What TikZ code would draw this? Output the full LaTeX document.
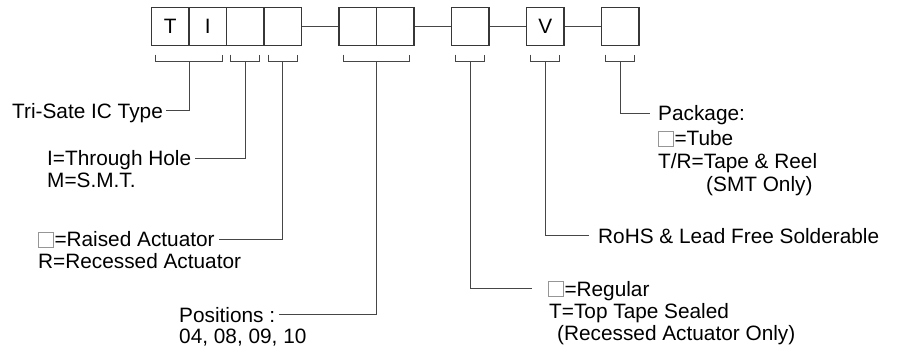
\documentclass[tikz,border=0pt]{standalone}
\usepackage{fontspec}
\setmainfont{Liberation Sans}
\usetikzlibrary{calc}
\definecolor{boxc}{RGB}{55,55,55}
\definecolor{linec}{RGB}{70,70,70}
\definecolor{sqgray}{RGB}{150,150,150}
\newcommand\emptysq{{\color{sqgray}\fboxsep=0pt\fboxrule=0.9pt\fbox{\rule{0pt}{14pt}\hspace{14pt}}}\kern0.5pt}
\newcommand\partbrace[3]{%
  \draw[brk] ($(#1.south west)+(5,8.5)$) -- ($(#1.south west)+(5,15.5)$) -- ($(#2.south east)+(-5,15.5)$) -- ($(#2.south east)+(-5,8.5)$);
  \coordinate (#3) at ($(#1.south west)!0.5!(#2.south east)+(0,15.5)$);}
\begin{document}
\begin{tikzpicture}[x=1pt,y=-1pt,
  cell/.style={draw=boxc,line width=1.1pt,minimum width=37.5pt,minimum height=38pt,inner sep=0pt,font=\fontsize{20.8}{23}\selectfont},
  lbl/.style={anchor=base west,inner sep=0pt,font=\fontsize{20.8}{23}\selectfont},
  ln/.style={draw=linec,line width=1pt},
  brk/.style={draw=linec,line width=1pt}]
\useasboundingbox (0,0) rectangle (901,352);
% code cells
\node[cell] (b1) at (170.25,26.5) {T};
\node[cell] (b2) at (207.75,26.5) {I};
\node[cell] (b3) at (245.25,26.5) {};
\node[cell] (b4) at (282.75,26.5) {};
\node[cell] (b5) at (357.75,26.5) {};
\node[cell] (b6) at (395.25,26.5) {};
\node[cell] (b7) at (470.25,26.5) {};
\node[cell] (b8) at (545.25,26.5) {V};
\node[cell] (b9) at (620.25,26.5) {};
\draw[ln] (b4.east) -- (b5.west);
\draw[ln] (b6.east) -- (b7.west);
\draw[ln] (b7.east) -- (b8.west);
\draw[ln] (b8.east) -- (b9.west);
% brackets
\partbrace{b1}{b2}{c1}
\partbrace{b3}{b3}{c2}
\partbrace{b4}{b4}{c3}
\partbrace{b5}{b6}{c4}
\partbrace{b7}{b7}{c5}
\partbrace{b8}{b8}{c6}
\partbrace{b9}{b9}{c7}
% labels
\node[lbl] (l1) at (12,118.5) {Tri-Sate IC Type};
\node[lbl] (l2a) at (47,166) {I=Through Hole};
\node[lbl] (l2b) at (47,188) {M=S.M.T.};
\node[lbl] (l3a) at (38,247) {\emptysq=Raised Actuator};
\node[lbl] (l3b) at (38,269) {R=Recessed Actuator};
\node[lbl] (l4a) at (179,322) {Positions :};
\node[lbl] (l4b) at (179,343.5) {04, 08, 09, 10};
\node[lbl] (l5a) at (548,296) {\emptysq=Regular};
\node[lbl] (l5b) at (549,318) {T=Top Tape Sealed};
\node[lbl] (l5c) at (557,340) {(Recessed Actuator Only)};
\node[lbl] (l6) at (598,243.5) {RoHS \& Lead Free Solderable};
\node[lbl] (l7a) at (658,121) {Package:};
\node[lbl] (l7b) at (658,146) {\emptysq=Tube};
\node[lbl] (l7c) at (658,169) {T/R=Tape \& Reel};
\node[lbl] (l7d) at (706,192) {(SMT Only)};
% leader lines
\draw[ln] (c1) |- ([xshift=2.5pt,yshift=7.5pt]l1.base east);
\draw[ln] (c2) |- ([xshift=4pt,yshift=7.5pt]l2a.base east);
\draw[ln] (c3) |- ([xshift=4pt,yshift=7.5pt]l3a.base east);
\draw[ln] (c4) |- ([xshift=4pt,yshift=7.5pt]l4a.base east);
\draw[ln] (c5) |- ([xshift=-16pt,yshift=7.5pt]l5a.base west);
\draw[ln] (c6) |- ([xshift=-9pt,yshift=7.5pt]l6.base west);
\draw[ln] (c7) |- ([xshift=-8pt,yshift=7.5pt]l7a.base west);
\end{tikzpicture}
\end{document}
